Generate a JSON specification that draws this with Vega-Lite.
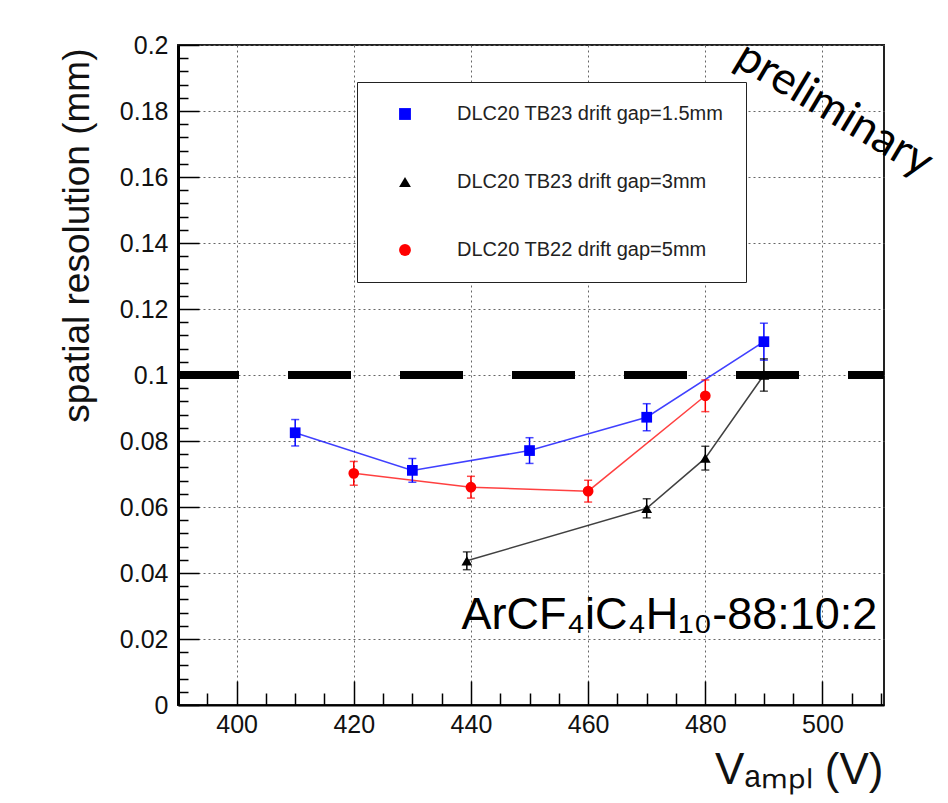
{
  "$schema": "https://vega.github.io/schema/vega-lite/v6.json",
  "width": 706,
  "height": 660,
  "autosize": {"type": "none"},
  "padding": {"left": 178, "top": 45, "right": 64, "bottom": 98},
  "background": "white",
  "config": {
    "font": "Liberation Sans",
    "view": {"stroke": "#222", "strokeWidth": 2}
  },
  "datasets": {
    "pts": [
      {"v": 410, "res": 0.0825, "lo": 0.0785, "hi": 0.0865, "s": "DLC20 TB23 drift gap=1.5mm"},
      {"v": 430, "res": 0.0711, "lo": 0.0675, "hi": 0.0747, "s": "DLC20 TB23 drift gap=1.5mm"},
      {"v": 450, "res": 0.0771, "lo": 0.0732, "hi": 0.081, "s": "DLC20 TB23 drift gap=1.5mm"},
      {"v": 470, "res": 0.0872, "lo": 0.0831, "hi": 0.0913, "s": "DLC20 TB23 drift gap=1.5mm"},
      {"v": 490, "res": 0.1101, "lo": 0.1045, "hi": 0.1157, "s": "DLC20 TB23 drift gap=1.5mm"},
      {"v": 439.3, "res": 0.0437, "lo": 0.041, "hi": 0.0464, "s": "DLC20 TB23 drift gap=3mm"},
      {"v": 470, "res": 0.0596, "lo": 0.0567, "hi": 0.0625, "s": "DLC20 TB23 drift gap=3mm"},
      {"v": 480, "res": 0.0748, "lo": 0.0712, "hi": 0.0784, "s": "DLC20 TB23 drift gap=3mm"},
      {"v": 490, "res": 0.1, "lo": 0.0951, "hi": 0.1049, "s": "DLC20 TB23 drift gap=3mm"},
      {"v": 420, "res": 0.0702, "lo": 0.0666, "hi": 0.0738, "s": "DLC20 TB22 drift gap=5mm"},
      {"v": 440, "res": 0.066, "lo": 0.0627, "hi": 0.0693, "s": "DLC20 TB22 drift gap=5mm"},
      {"v": 460, "res": 0.0648, "lo": 0.0615, "hi": 0.0681, "s": "DLC20 TB22 drift gap=5mm"},
      {"v": 480, "res": 0.0937, "lo": 0.0889, "hi": 0.0985, "s": "DLC20 TB22 drift gap=5mm"}
    ]
  },
  "layer": [
    {
      "data": {"values": [{"ref": 0.1}]},
      "mark": {"type": "rule", "color": "#000", "strokeWidth": 8, "strokeDash": [63, 49], "strokeDashOffset": 27},
      "encoding": {"y": {"datum": 0.1, "axis": null}}
    },
    {
      "data": {"name": "pts"},
      "mark": {"type": "line", "strokeWidth": 1.5, "opacity": 0.75},
      "encoding": {
        "x": {"field": "v", "type": "quantitative", "axis": null},
        "y": {"field": "res", "type": "quantitative", "axis": null},
        "color": {"field": "s", "type": "nominal", "legend": null}
      }
    },
    {
      "data": {"name": "pts"},
      "mark": {"type": "rule", "strokeWidth": 1.5},
      "encoding": {
        "x": {"field": "v", "type": "quantitative", "axis": null},
        "y": {"field": "lo", "type": "quantitative", "axis": null},
        "y2": {"field": "hi"},
        "color": {"field": "s", "type": "nominal", "legend": null}
      }
    },
    {
      "data": {"name": "pts"},
      "mark": {"type": "tick", "orient": "horizontal", "size": 8, "thickness": 1.5},
      "encoding": {
        "x": {"field": "v", "type": "quantitative", "axis": null},
        "y": {"field": "lo", "type": "quantitative", "axis": null},
        "color": {"field": "s", "type": "nominal", "legend": null}
      }
    },
    {
      "data": {"name": "pts"},
      "mark": {"type": "tick", "orient": "horizontal", "size": 8, "thickness": 1.5},
      "encoding": {
        "x": {"field": "v", "type": "quantitative", "axis": null},
        "y": {"field": "hi", "type": "quantitative", "axis": null},
        "color": {"field": "s", "type": "nominal", "legend": null}
      }
    },
    {
      "data": {"name": "pts"},
      "mark": {"type": "point", "filled": true, "size": 115, "opacity": 1},
      "encoding": {
        "x": {
          "field": "v", "type": "quantitative",
          "scale": {"domain": [390, 510.5], "nice": false, "zero": false},
          "axis": {
            "orient": "bottom",
            "values": [400, 420, 440, 460, 480, 500],
            "grid": true, "gridDash": [2, 3], "gridColor": "#666", "gridWidth": 1,
            "tickSize": -24, "tickWidth": 1.5, "tickColor": "#000",
            "domainColor": "#000", "domainWidth": 2,
            "labelFontSize": 25, "labelPadding": 31, "labelColor": "#111", "labelFlush": false,
            "title": "Vₐₘₚₗ (V)", "titleFontSize": 44, "titleFontWeight": "normal", "titleColor": "#111",
            "titleX": 705, "titleY": 78, "titleAlign": "right", "titleBaseline": "alphabetic", "titleAngle": 0
          }
        },
        "y": {
          "field": "res", "type": "quantitative",
          "scale": {"domain": [0, 0.2], "nice": false, "zero": false},
          "axis": {
            "orient": "left",
            "values": [0, 0.02, 0.04, 0.06, 0.08, 0.1, 0.12, 0.14, 0.16, 0.18, 0.2],
            "format": "~g",
            "grid": true, "gridDash": [2, 3], "gridColor": "#666", "gridWidth": 1,
            "tickSize": -21, "tickWidth": 1.5, "tickColor": "#000",
            "domainColor": "#000", "domainWidth": 3,
            "labelFontSize": 25, "labelPadding": 31, "labelColor": "#111", "labelFlush": false,
            "title": "spatial resolution (mm)", "titleFontSize": 37, "titleFontWeight": "normal", "titleColor": "#111",
            "titleX": -90, "titleY": 3, "titleAlign": "right", "titleBaseline": "alphabetic", "titleAngle": -90
          }
        },
        "color": {
          "field": "s", "type": "nominal",
          "scale": {"domain": ["DLC20 TB23 drift gap=1.5mm", "DLC20 TB23 drift gap=3mm", "DLC20 TB22 drift gap=5mm"], "range": ["#0000ff", "#000000", "#ff0000"]},
          "legend": {
            "orient": "none", "legendX": 179, "legendY": 37, "title": null, "direction": "vertical",
            "padding": 22, "rowPadding": 48, "symbolOffset": 16, "labelOffset": 42, "labelLimit": 500,
            "labelFontSize": 20, "labelColor": "#222", "symbolSize": 140, "symbolStrokeWidth": 0,
            "fillColor": "white", "strokeColor": "#222"
          }
        },
        "shape": {
          "field": "s", "type": "nominal",
          "scale": {"domain": ["DLC20 TB23 drift gap=1.5mm", "DLC20 TB23 drift gap=3mm", "DLC20 TB22 drift gap=5mm"], "range": ["square", "triangle-up", "circle"]},
          "legend": {
            "orient": "none", "legendX": 179, "legendY": 37, "title": null, "direction": "vertical",
            "padding": 22, "rowPadding": 48, "symbolOffset": 16, "labelOffset": 42, "labelLimit": 500,
            "labelFontSize": 20, "labelColor": "#222", "symbolSize": 140, "symbolStrokeWidth": 0,
            "fillColor": "white", "strokeColor": "#222"
          }
        }
      }
    },
    {
      "data": {"name": "pts"},
      "mark": {"type": "point", "opacity": 0},
      "encoding": {
        "x": {
          "field": "v", "type": "quantitative",
          "axis": {
            "orient": "bottom",
            "values": [395, 405, 410, 415, 425, 430, 435, 445, 450, 455, 465, 470, 475, 485, 490, 495, 505, 510],
            "labels": false, "grid": false, "domain": false, "title": null,
            "tickSize": -12, "tickWidth": 1.5, "tickColor": "#000"
          }
        },
        "y": {
          "field": "res", "type": "quantitative",
          "axis": {
            "orient": "left",
            "values": [0.004, 0.008, 0.012, 0.016, 0.024, 0.028, 0.032, 0.036, 0.044, 0.048, 0.052, 0.056, 0.064, 0.068, 0.072, 0.076, 0.084, 0.088, 0.092, 0.096, 0.104, 0.108, 0.112, 0.116, 0.124, 0.128, 0.132, 0.136, 0.144, 0.148, 0.152, 0.156, 0.164, 0.168, 0.172, 0.176, 0.184, 0.188, 0.192, 0.196],
            "labels": false, "grid": false, "domain": false, "title": null,
            "tickSize": -10, "tickWidth": 1.5, "tickColor": "#000"
          }
        }
      }
    },
    {
      "data": {"values": [{"label": "preliminary"}]},
      "mark": {"type": "text", "font": "Lato", "fontSize": 45, "angle": 31, "align": "center", "baseline": "middle", "color": "#000"},
      "encoding": {
        "x": {"datum": 502, "axis": null},
        "y": {"datum": 0.1805, "axis": null},
        "text": {"field": "label"}
      }
    },
    {
      "data": {"values": [{"label": "ArCF₄iC₄H₁₀-88:10:2"}]},
      "mark": {"type": "text", "fontSize": 45, "align": "left", "baseline": "alphabetic", "color": "#000"},
      "encoding": {
        "x": {"datum": 438.4, "axis": null},
        "y": {"datum": 0.023, "axis": null},
        "text": {"field": "label"}
      }
    }
  ],
  "resolve": {
    "axis": {"x": "independent", "y": "independent"},
    "legend": {"color": "independent", "shape": "independent"}
  }
}
